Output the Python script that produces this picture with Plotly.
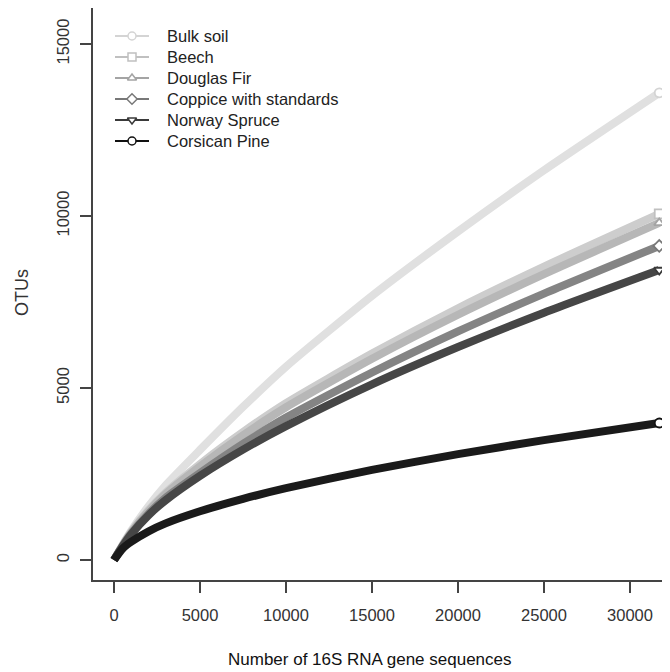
import plotly.graph_objects as go

# ---- data ----
seqs = [0, 500, 1000, 2000, 3000, 5000, 7500, 10000, 15000, 20000, 25000, 31700]

bulk_soil = [0, 440, 850, 1560, 2170, 3200, 4450, 5620, 7680, 9550, 11330, 13580]
beech = [0, 430, 820, 1450, 1960, 2790, 3720, 4560, 6000, 7320, 8530, 10060]
douglas_fir = [0, 420, 800, 1410, 1920, 2720, 3625, 4440, 5850, 7130, 8310, 9800]
coppice = [0, 410, 770, 1340, 1810, 2530, 3375, 4140, 5450, 6645, 7745, 9130]
norway_spruce = [0, 400, 750, 1300, 1737, 2446, 3210, 3892, 5108, 6192, 7190, 8430]
corsican_pine = [0, 330, 530, 830, 1064, 1416, 1777, 2088, 2620, 3077, 3486, 3983]

series_names = ["Bulk soil", "Beech", "Douglas Fir", "Coppice with standards",
                "Norway Spruce", "Corsican Pine"]
series_values = [bulk_soil, beech, douglas_fir, coppice, norway_spruce, corsican_pine]

x_ticks = [0, 5000, 10000, 15000, 20000, 25000, 30000]
x_tick_labels = ["0", "5000", "10000", "15000", "20000", "25000", "30000"]
y_ticks = [0, 5000, 10000, 15000]
y_tick_labels = ["0", "5000", "10000", "15000"]

# ---- styles ----
line_colors = ["#e0e0e0", "#cdcdcd", "#b7b7b7", "#848484", "#464646", "#1a1a1a"]
legend_colors = ["#d4d4d4", "#c0c0c0", "#a4a4a4", "#787878", "#3a3a3a", "#111111"]
symbols = ["circle", "square", "triangle-up", "diamond", "triangle-down", "circle"]

FONT = "Liberation Sans, Arial, Helvetica, sans-serif"
W, H = 670, 672
ML, MR, MT, MB = 85, 0, 0, 100
plot_w = W - ML - MR
plot_h = H - MT - MB


def px_to_paper_x(px):
    return (px - ML) / plot_w


def px_to_paper_y(py):
    return (H - MB - py) / plot_h


fig = go.Figure()

for name, vals, col in zip(series_names, series_values, line_colors):
    fig.add_trace(go.Scatter(
        x=seqs, y=vals, mode="lines", name=name, showlegend=False,
        line=dict(color=col, width=8, shape="spline", smoothing=0.6),
        hoverinfo="skip"))

for name, vals, col, sym in zip(series_names, series_values, legend_colors, symbols):
    fig.add_trace(go.Scatter(
        x=[seqs[-1]], y=[vals[-1]], mode="markers", showlegend=False,
        marker=dict(symbol=sym, size=9, color="white",
                    line=dict(color=col, width=1.8)),
        hoverinfo="skip", cliponaxis=False))

# ---- manual key (pixel layout on an overlay axis) ----
LEG_X0, LEG_X1, LEG_TX = 107, 141, 157
LEG_Y0, LEG_DY = 28, 21
annotations = []
for i, (name, col, sym) in enumerate(zip(series_names, legend_colors, symbols)):
    yy = LEG_Y0 + i * LEG_DY
    fig.add_trace(go.Scatter(
        x=[LEG_X0, LEG_X1], y=[yy, yy], mode="lines", xaxis="x2", yaxis="y2",
        showlegend=False, hoverinfo="skip", line=dict(color=col, width=2)))
    fig.add_trace(go.Scatter(
        x=[(LEG_X0 + LEG_X1) / 2], y=[yy], mode="markers", xaxis="x2", yaxis="y2",
        showlegend=False, hoverinfo="skip",
        marker=dict(symbol=sym, size=8, color="white", line=dict(color=col, width=1.5))))
    annotations.append(dict(text=name, xref="x2", yref="y2", x=LEG_TX, y=yy,
                            xanchor="left", yanchor="middle", showarrow=False,
                            font=dict(family=FONT, size=16.5, color="#222222")))

axis_col = "#444444"
tick_font = dict(family=FONT, size=16.5, color="#333333")

annotations += [
    dict(text="Number of 16S RNA gene sequences", xref="paper", yref="paper",
         x=px_to_paper_x(362), y=px_to_paper_y(651), xanchor="center", yanchor="middle",
         showarrow=False, font=dict(family=FONT, size=17, color="#111111")),
    dict(text="OTUs", xref="paper", yref="paper",
         x=px_to_paper_x(14), y=px_to_paper_y(285), xanchor="center", yanchor="middle",
         showarrow=False, textangle=-90,
         font=dict(family=FONT, size=18, color="#333333")),
]

fig.update_layout(
    width=W, height=H,
    margin=dict(l=ML, r=MR, t=MT, b=MB, pad=0),
    paper_bgcolor="white", plot_bgcolor="white",
    showlegend=False,
    xaxis=dict(range=[-1221, 32791], tickvals=x_ticks, ticktext=x_tick_labels,
               ticks="outside", ticklen=11, tickwidth=1.5, tickcolor=axis_col,
               showline=True, linecolor=axis_col, linewidth=1.5, mirror=True,
               showgrid=False, zeroline=False, tickfont=tick_font,
               ticklabelstandoff=8, automargin=False),
    yaxis=dict(range=[-581, 16047], tickvals=y_ticks, ticktext=y_tick_labels,
               ticks="outside", ticklen=11, tickwidth=1.5, tickcolor=axis_col,
               showline=True, linecolor=axis_col, linewidth=1.5, mirror=False,
               showgrid=False, zeroline=False, tickfont=tick_font, tickangle=-90,
               ticklabelstandoff=5, automargin=False),
    xaxis2=dict(overlaying="x", range=[ML, W], visible=False, fixedrange=True),
    yaxis2=dict(overlaying="y", range=[H - MB, MT], visible=False, fixedrange=True),
    annotations=annotations,
)

fig.write_html("out.html")
